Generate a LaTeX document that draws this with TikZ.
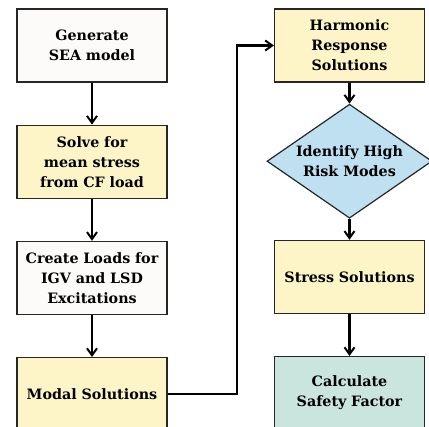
\documentclass[tikz,border=0pt]{standalone}
\usepackage{fontspec}
\setmainfont{DejaVu Serif}
\usepackage{xcolor}
\usetikzlibrary{positioning,arrows.meta,shapes.geometric}
\definecolor{stepyellow}{RGB}{253,244,200}
\definecolor{stepwhite}{RGB}{253,250,250}
\definecolor{stepblue}{RGB}{190,224,240}
\definecolor{stepteal}{RGB}{202,229,222}
\tikzset{
    flowbox/.style={draw=black!85, line width=1.2pt, align=center, minimum width=150pt, minimum height=73pt, text width=148pt, inner sep=0pt, font=\bfseries\fontsize{14.3}{20}\selectfont},
    flowdecision/.style={draw=black!85, line width=1.2pt, diamond, aspect=1.5, align=center, minimum width=165pt, minimum height=114pt, inner sep=-3pt, fill=stepblue, font=\bfseries\fontsize{14.3}{20}\selectfont},
    flowarrow/.style={draw, -{Straight Barb[length=7pt,width=10pt,line width=2pt]}, line width=2.6pt}
}
\begin{document}
\begin{tikzpicture}[x=1pt, y=1pt, node distance=42pt]
    \useasboundingbox (0,0) rectangle (429,-427);
    % left column
    \node[flowbox, fill=stepwhite] (sea) at (92,-45.5) {Generate\\SEA model};
    \node[flowbox, fill=stepyellow, below=of sea] (mean) {Solve for\\mean stress\\from CF load};
    \node[flowbox, fill=stepwhite, below=of mean] (loads) {Create Loads for\\IGV and LSD\\Excitations};
    \node[flowbox, fill=stepyellow, below=of loads] (modal) {Modal Solutions};
    % right column
    \node[flowbox, fill=stepyellow] (harm) at (349.5,-45.5) {Harmonic\\Response\\Solutions};
    \node[flowdecision, below=21pt of harm] (risk) {Identify High\\Risk Modes};
    \node[flowbox, fill=stepyellow, below=21pt of risk] (stress) {Stress Solutions};
    \node[flowbox, fill=stepteal, below=of stress] (safety) {Calculate\\Safety Factor};
    \coordinate (bend) at (237,-392);

    \draw[flowarrow] (sea) -- (mean);
    \draw[flowarrow] (mean) -- (loads);
    \draw[flowarrow] (loads) -- (modal);
    \draw[flowarrow] (modal.east) -- (modal.east -| bend) |- (harm.west);
    \draw[flowarrow] (harm) -- (risk);
    \draw[flowarrow] (risk) -- (stress);
    \draw[flowarrow] (stress) -- (safety);
\end{tikzpicture}
\end{document}
